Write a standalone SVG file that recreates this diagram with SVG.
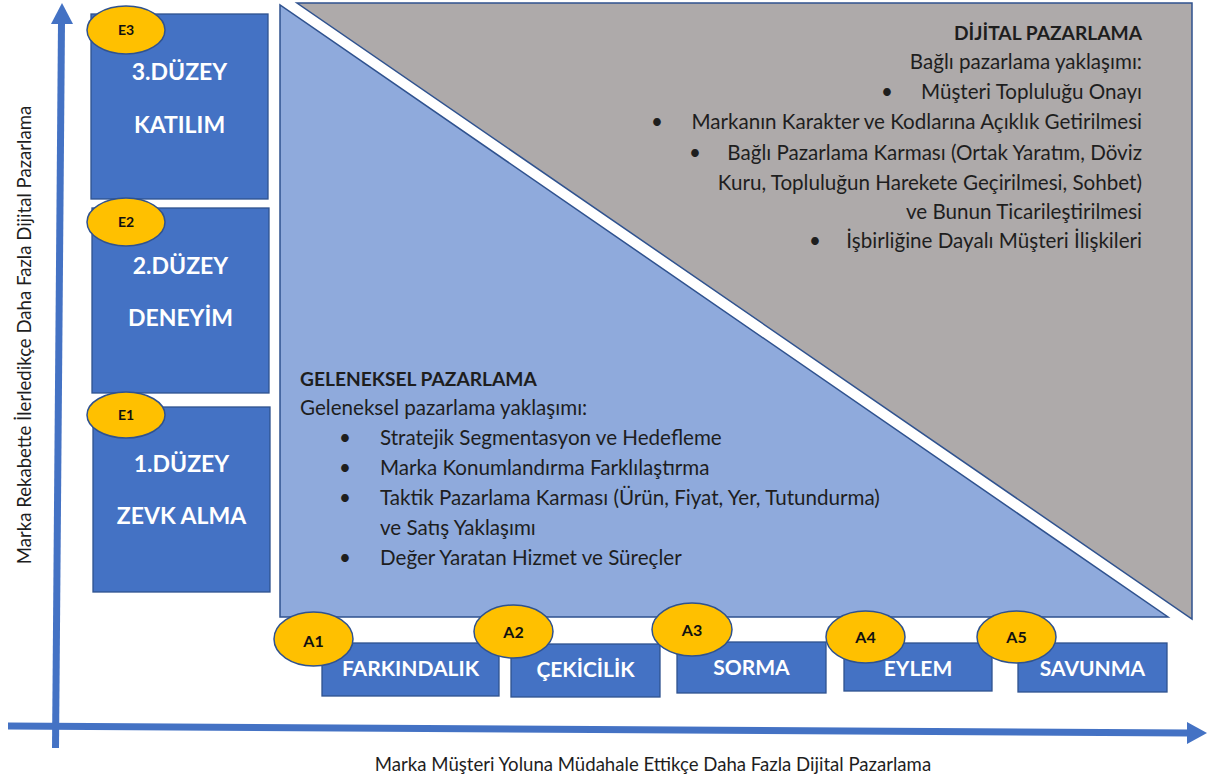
<svg xmlns="http://www.w3.org/2000/svg" width="1210" height="780" viewBox="0 0 1210 780">
  <style>
    .lvl { fill: #4472C4; stroke: #2F528F; stroke-width: 1.3; }
    .badge { fill: #FFC000; stroke: #2F528F; stroke-width: 1.5; }
    .lvl-text { font-family: Lato, "Liberation Sans", sans-serif; font-weight: bold; font-size: 23px; fill: #FFFFFF; text-anchor: middle; }
    .step-text { font-family: Lato, "Liberation Sans", sans-serif; font-weight: bold; font-size: 21px; fill: #FFFFFF; text-anchor: middle; }
    .badge-e { font-family: Lato, "Liberation Sans", sans-serif; font-weight: bold; font-size: 14px; fill: #111111; text-anchor: middle; }
    .badge-a { font-family: Lato, "Liberation Sans", sans-serif; font-weight: bold; font-size: 16px; fill: #111111; text-anchor: middle; }
    .body { font-family: Lato, "Liberation Sans", sans-serif; font-size: 20.6px; fill: #1E1E1E; }
    .head { font-family: Lato, "Liberation Sans", sans-serif; font-weight: bold; font-size: 19.2px; fill: #1E1E1E; }
    .axis-label { font-family: Lato, "Liberation Sans", sans-serif; font-size: 18.6px; fill: #1E1E1E; }
    .end { text-anchor: end; }
    .axis { fill: #4472C4; }
  </style>

  <!-- axes -->
  <g id="connectors">
    <line x1="55.5" y1="748" x2="61.5" y2="22" stroke="#4472C4" stroke-width="7"/>
    <polygon class="axis" points="62,3 73,24 51,24"/>
    <line x1="8" y1="726" x2="1189" y2="733" stroke="#4472C4" stroke-width="7"/>
    <polygon class="axis" points="1207,733 1187,722 1187,744"/>
  </g>

  <!-- digital marketing area -->
  <g id="dijital">
    <polygon points="297,3 1192,3 1192,619" fill="#AEAAAA" stroke="#2F528F" stroke-width="1.5"/>
    <text class="head end" x="1142" y="40">DİJİTAL PAZARLAMA</text>
    <text class="body end" x="1142" y="69">Bağlı pazarlama yaklaşımı:</text>
    <text class="body" x="881" y="99">•</text>
    <text class="body end" x="1142" y="99">Müşteri Topluluğu Onayı</text>
    <text class="body" x="651" y="129">•</text>
    <text class="body end" x="1142" y="129">Markanın Karakter ve Kodlarına Açıklık Getirilmesi</text>
    <text class="body" x="689" y="160">•</text>
    <text class="body end" x="1142" y="160">Bağlı Pazarlama Karması (Ortak Yaratım, Döviz</text>
    <text class="body end" x="1142" y="190">Kuru, Topluluğun Harekete Geçirilmesi, Sohbet)</text>
    <text class="body end" x="1142" y="219">ve Bunun Ticarileştirilmesi</text>
    <text class="body" x="809" y="248">•</text>
    <text class="body end" x="1142" y="248">İşbirliğine Dayalı Müşteri İlişkileri</text>
  </g>

  <!-- traditional marketing area -->
  <g id="geleneksel">
    <polygon points="280,5 280,617 1168,617" fill="#8FAADC" stroke="#2F528F" stroke-width="1.5"/>
    <text class="head" x="300" y="386">GELENEKSEL PAZARLAMA</text>
    <text class="body" x="300" y="415">Geleneksel pazarlama yaklaşımı:</text>
    <text class="body" x="339" y="445">•</text>
    <text class="body" x="380" y="445">Stratejik Segmentasyon ve Hedefleme</text>
    <text class="body" x="339" y="475">•</text>
    <text class="body" x="380" y="475">Marka Konumlandırma Farklılaştırma</text>
    <text class="body" x="339" y="505">•</text>
    <text class="body" x="380" y="505">Taktik Pazarlama Karması (Ürün, Fiyat, Yer, Tutundurma)</text>
    <text class="body" x="380" y="535">ve Satış Yaklaşımı</text>
    <text class="body" x="339" y="565">•</text>
    <text class="body" x="380" y="565">Değer Yaratan Hizmet ve Süreçler</text>
  </g>

  <!-- engagement levels -->
  <g id="e3">
    <rect class="lvl" x="91" y="14" width="177" height="185"/>
    <text class="lvl-text" x="179.5" y="80">3.DÜZEY</text>
    <text class="lvl-text" x="179.5" y="133">KATILIM</text>
    <ellipse class="badge" cx="126" cy="30" rx="39" ry="24"/>
    <text class="badge-e" x="126" y="35">E3</text>
  </g>
  <g id="e2">
    <rect class="lvl" x="92" y="208" width="177" height="185"/>
    <text class="lvl-text" x="180.5" y="274">2.DÜZEY</text>
    <text class="lvl-text" x="180.5" y="326">DENEYİM</text>
    <ellipse class="badge" cx="126" cy="222" rx="39" ry="24"/>
    <text class="badge-e" x="126" y="227">E2</text>
  </g>
  <g id="e1">
    <rect class="lvl" x="93" y="407" width="177" height="185"/>
    <text class="lvl-text" x="181.5" y="472">1.DÜZEY</text>
    <text class="lvl-text" x="181.5" y="524">ZEVK ALMA</text>
    <ellipse class="badge" cx="126" cy="415" rx="39" ry="23"/>
    <text class="badge-e" x="126" y="420">E1</text>
  </g>

  <!-- customer path steps -->
  <g id="a1">
    <rect class="lvl" x="322" y="643" width="177" height="53"/>
    <text class="step-text" x="410.5" y="676">FARKINDALIK</text>
    <ellipse class="badge" cx="313.5" cy="639" rx="39.5" ry="27"/>
    <text class="badge-a" x="313.5" y="647">A1</text>
  </g>
  <g id="a2">
    <rect class="lvl" x="511" y="644" width="149" height="53"/>
    <text class="step-text" x="585.5" y="677">ÇEKİCİLİK</text>
    <ellipse class="badge" cx="513.5" cy="631.5" rx="39.5" ry="26.5"/>
    <text class="badge-a" x="513.5" y="638">A2</text>
  </g>
  <g id="a3">
    <rect class="lvl" x="677" y="642" width="149" height="51"/>
    <text class="step-text" x="751.5" y="675">SORMA</text>
    <ellipse class="badge" cx="692" cy="629.5" rx="40" ry="26.5"/>
    <text class="badge-a" x="692" y="636">A3</text>
  </g>
  <g id="a4">
    <rect class="lvl" x="844" y="643" width="148" height="48"/>
    <text class="step-text" x="918" y="676">EYLEM</text>
    <ellipse class="badge" cx="865.5" cy="637" rx="39.5" ry="26"/>
    <text class="badge-a" x="865.5" y="643">A4</text>
  </g>
  <g id="a5">
    <rect class="lvl" x="1018" y="643" width="149" height="49"/>
    <text class="step-text" x="1092.5" y="676">SAVUNMA</text>
    <ellipse class="badge" cx="1016.5" cy="637" rx="39.5" ry="26"/>
    <text class="badge-a" x="1016.5" y="643">A5</text>
  </g>

  <!-- axis titles -->
  <text class="axis-label" x="653" y="771" text-anchor="middle">Marka Müşteri Yoluna Müdahale Ettikçe Daha Fazla Dijital Pazarlama</text>
  <text class="axis-label" transform="translate(31,335) rotate(-90)" text-anchor="middle">Marka Rekabette İlerledikçe Daha Fazla Dijital Pazarlama</text>
</svg>
